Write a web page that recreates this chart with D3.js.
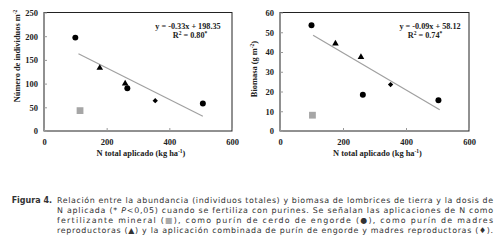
<!DOCTYPE html>
<html>
<head>
<meta charset="utf-8">
<script src="https://cdn.jsdelivr.net/npm/d3@7"></script>
<style>
  body { margin: 0; background: #fff; }
  svg { display: block; }
</style>
</head>
<body>
<div id="chart"></div>
<script>
// tick values
const xTicks = [0, 200, 400, 600];
const abundTicks = [0, 50, 100, 150, 200, 250];
const biomTicks = [0, 10, 20, 30, 40, 50, 60];

// abundancia (individuos m-2) vs N total aplicado
const abundMineral = [[115, 43]];
const abundEngorde = [[100, 197], [266, 90], [507, 58]];
const abundMadres = [[178, 133], [259, 100]];
const abundMixto = [[355, 64]];
const abundTrend = [[110, 163], [507, 31]];

// biomasa (g m-2) vs N total aplicado
const biomMineral = [[103, 8]];
const biomEngorde = [[100, 53.5], [263, 18.3], [503, 15.6]];
const biomMadres = [[176, 44.3], [257, 37.4]];
const biomMixto = [[351, 23.5]];
const biomTrend = [[105, 48.5], [507, 10.8]];

const captionLines = [
  "Relación entre la abundancia (individuos totales) y biomasa de lombrices de tierra y la dosis de",
  "N aplicada (* |P|<0,05) cuando se fertiliza con purines. Se señalan las aplicaciones de N como",
  "fertilizante mineral (#■#), como purín de cerdo de engorde (●), como purín de madres",
  "reproductoras (▲) y la aplicación combinada de purín de engorde y madres reproductoras (♦)."
];

const width = 500, height = 242;
const svg = d3.select('#chart').append('svg')
  .attr('width', width)
  .attr('height', height);

const serif = '"Liberation Serif", "Times New Roman", serif';

function drawPanel(opt) {
  const x = d3.scaleLinear().domain([0, 600]).range([opt.left, opt.right]);
  const y = d3.scaleLinear().domain([0, opt.yMax]).range([131, 12.5]);
  const g = svg.append('g');

  // frame
  g.append('rect')
    .attr('x', opt.left).attr('y', 12.5)
    .attr('width', opt.right - opt.left).attr('height', 131 - 12.5)
    .attr('fill', 'none').attr('stroke', '#222').attr('stroke-width', 1);

  const yAxis = g.append('g')
    .attr('transform', `translate(${opt.left},0)`)
    .call(d3.axisRight(y).tickValues(opt.yTicks).tickSize(3).tickFormat(d3.format('d')));
  yAxis.select('.domain').remove();
  yAxis.selectAll('line').attr('stroke', '#999');
  yAxis.selectAll('text')
    .attr('x', -6).attr('text-anchor', 'end')
    .attr('dy', '0.35em');

  const xAxis = g.append('g')
    .attr('transform', `translate(0,131)`)
    .call(d3.axisTop(x).tickValues(xTicks).tickSize(3).tickFormat(d3.format('d')));
  xAxis.select('.domain').remove();
  xAxis.selectAll('line').attr('stroke', '#999');
  xAxis.selectAll('text').attr('y', 13.5).attr('dy', 0);

  g.selectAll('.tick text')
    .style('font-family', serif).style('font-weight', 'bold')
    .style('font-size', '8.5px').attr('fill', '#222');

  // trend line
  g.append('path')
    .datum(opt.trend)
    .attr('d', d3.line().x(d => x(d[0])).y(d => y(d[1])))
    .attr('stroke', '#a0a0a0').attr('stroke-width', 1.2).attr('fill', 'none');

  const sym = (type, size) => d3.symbol().type(type).size(size);
  const series = [
    {data: opt.mineral, path: sym(d3.symbolSquare, 46)(), fill: '#a6a6a6'},
    {data: opt.engorde, path: sym(d3.symbolCircle, 28)(), fill: '#000'},
    {data: opt.madres, path: sym(d3.symbolTriangle, 19)(), fill: '#000'},
    {data: opt.mixto, path: sym(d3.symbolDiamond2, 18)(), fill: '#000'}
  ];
  series.forEach(s => {
    g.selectAll(null).data(s.data).enter().append('path')
      .attr('d', s.path)
      .attr('transform', d => `translate(${x(d[0])},${y(d[1])})`)
      .attr('fill', s.fill);
  });

  // equation
  const eq = g.append('text')
    .style('font-family', serif).style('font-weight', 'bold').style('font-size', '8.2px')
    .attr('fill', '#222');
  eq.append('tspan').attr('x', opt.eqX).attr('y', 28.5).attr('text-anchor', 'middle').text(opt.eq);
  const r = eq.append('tspan').attr('x', opt.r2X).attr('y', 37.5).attr('text-anchor', 'middle');
  r.append('tspan').text('R');
  r.append('tspan').attr('dy', -3).style('font-size', '5.5px').text('2');
  r.append('tspan').attr('dy', 3).text(' = ' + opt.r2);
  r.append('tspan').attr('dy', -3).style('font-size', '5.5px').text('*');

  // x title
  const xt = g.append('text')
    .attr('x', (opt.left + opt.right) / 2 + 3).attr('y', 156)
    .attr('text-anchor', 'middle')
    .style('font-family', serif).style('font-weight', 'bold').style('font-size', '8.4px')
    .attr('fill', '#222');
  xt.append('tspan').text('N total aplicado (kg ha');
  xt.append('tspan').attr('dy', -3.2).style('font-size', '5.5px').text('-1');
  xt.append('tspan').attr('dy', 3.2).text(')');

  // y title
  const yt = g.append('text')
    .attr('transform', `translate(${opt.yTitleX},${opt.yTitleY}) rotate(-90)`)
    .attr('text-anchor', 'middle')
    .style('font-family', serif).style('font-weight', 'bold').style('font-size', '8.4px')
    .attr('fill', '#222');
  yt.append('tspan').text(opt.yTitle);
  yt.append('tspan').attr('dy', -3.2).style('font-size', '5.5px').text('-2');
  yt.append('tspan').attr('dy', 3.2).text(opt.yTitleEnd);
}

drawPanel({
  left: 44, right: 232, yMax: 250, yTicks: abundTicks,
  mineral: abundMineral, engorde: abundEngorde, madres: abundMadres, mixto: abundMixto,
  trend: abundTrend,
  eq: 'y = -0.33x + 198.35', eqX: 188, r2: '0.80', r2X: 190,
  yTitle: 'Número de individuos m', yTitleEnd: '', yTitleX: 20, yTitleY: 56
});

drawPanel({
  left: 280, right: 469, yMax: 60, yTicks: biomTicks,
  mineral: biomMineral, engorde: biomEngorde, madres: biomMadres, mixto: biomMixto,
  trend: biomTrend,
  eq: 'y = -0.09x + 58.12', eqX: 430, r2: '0.74', r2X: 425,
  yTitle: 'Biomasa  (g m', yTitleEnd: ')', yTitleX: 257, yTitleY: 69
});

// caption
const capFont = '"DejaVu Sans", Verdana, sans-serif';
svg.append('text')
  .attr('x', 52).attr('y', 203).attr('text-anchor', 'end')
  .style('font-family', capFont).style('font-weight', 'bold').style('font-size', '8px')
  .attr('fill', '#333').text('Figura 4.');

captionLines.forEach((line, i) => {
  const t = svg.append('text')
    .attr('x', 57).attr('y', 203 + i * 10)
    .attr('textLength', 436).attr('lengthAdjust', 'spacing')
    .style('font-family', capFont).style('font-size', '7.9px')
    .attr('fill', '#333');
  line.split(/([|#][^|#]*[|#])/).forEach(part => {
    if (part.startsWith('|')) {
      t.append('tspan').style('font-style', 'italic').text(part.slice(1, -1));
    } else if (part.startsWith('#')) {
      t.append('tspan').attr('fill', '#aaa').text(part.slice(1, -1));
    } else if (part.length) {
      t.append('tspan').text(part);
    }
  });
});
</script>
</body>
</html>
